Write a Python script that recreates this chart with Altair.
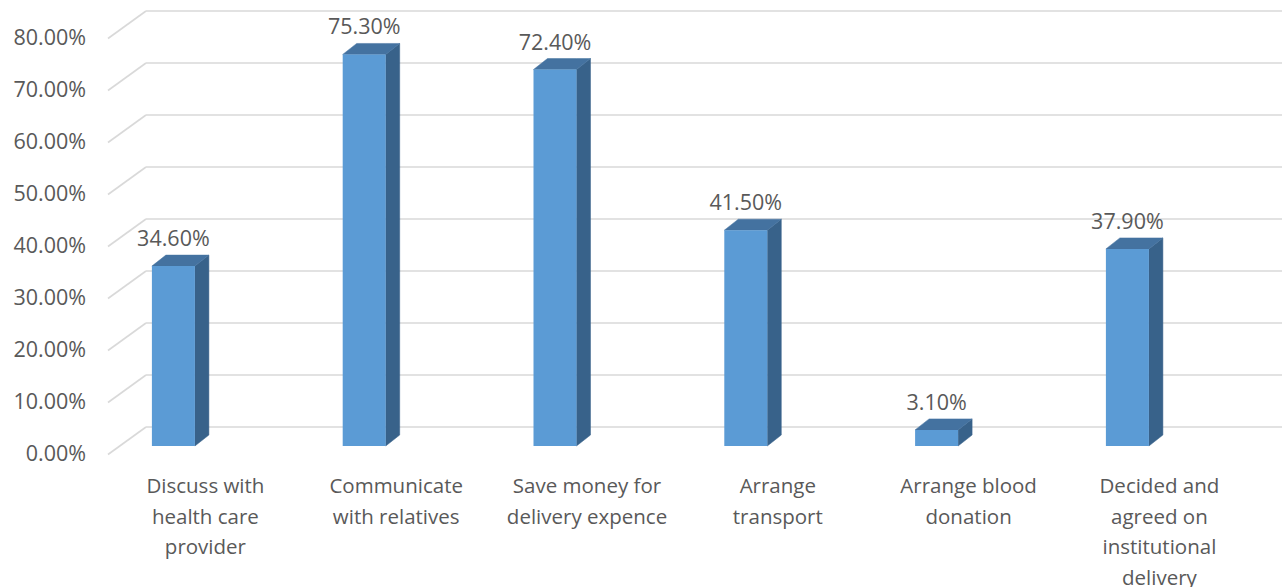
import altair as alt
import pandas as pd

# ---- data ----
categories = [
    "Discuss with\nhealth care\nprovider",
    "Communicate\nwith relatives",
    "Save money for\ndelivery expence",
    "Arrange\ntransport",
    "Arrange blood\ndonation",
    "Decided and\nagreed on\ninstitutional\ndelivery",
]
values = [34.6, 75.3, 72.4, 41.5, 3.1, 37.9]
ticks = [0, 10, 20, 30, 40, 50, 60, 70, 80]
tick_labels = ["0.00%", "10.00%", "20.00%", "30.00%", "40.00%", "50.00%", "60.00%", "70.00%", "80.00%"]
value_labels = ["34.60%", "75.30%", "72.40%", "41.50%", "3.10%", "37.90%"]

# ---- geometry / style ----
W, H = 1172, 446
UNIT = 190.8          # px per category
PX_PER_PCT = 5.2
xdom = [-0.5, -0.5 + W / UNIT]
ydom = [0, H / PX_PER_PCT]
face_l = -53.5 / UNIT
face_r = -10.5 / UNIT
dxu = 14 / UNIT
dyu = 11 / PX_PER_PCT

FRONT = "#5B9BD5"
TOP = "#4472A0"
SIDE = "#38628A"
GRID = "#D9D9D9"
TXT = "#595959"
FONT = "Open Sans"

xs = alt.Scale(domain=xdom, nice=False, zero=False)
ys = alt.Scale(domain=ydom, nice=False, zero=False)

bars = pd.DataFrame({
    "idx": list(range(len(values))),
    "cat": categories,
    "v": values,
    "lab": value_labels,
})
bars["xl"] = bars["idx"] + face_l
bars["xr"] = bars["idx"] + face_r
bars["xc"] = bars["idx"] + (face_l + face_r) / 2

side_rows, top_rows = [], []
for i, v in enumerate(values):
    side_rows.append({"idx": i, "x": i + face_r, "t": v, "b": 0})
    side_rows.append({"idx": i, "x": i + face_r + dxu, "t": v + dyu, "b": dyu})
    top_rows.append({"idx": i, "x": i + face_l, "t": v, "b": v})
    top_rows.append({"idx": i, "x": i + face_l + dxu, "t": v + dyu, "b": v})
    top_rows.append({"idx": i, "x": i + face_r, "t": v + dyu, "b": v})
    top_rows.append({"idx": i, "x": i + face_r + dxu, "t": v + dyu, "b": v + dyu})
side = pd.DataFrame(side_rows)
top = pd.DataFrame(top_rows)

grid = pd.DataFrame({"t": ticks, "lab": tick_labels})

stubs = alt.Chart(grid).mark_rule(color=GRID, strokeWidth=1.6, yOffset=8.5, y2Offset=-19).encode(
    x=alt.value(-2), x2=alt.value(36),
    y=alt.Y("t:Q", scale=ys, axis=None), y2="t:Q",
)
back = alt.Chart(grid).mark_rule(color=GRID, strokeWidth=1.6, yOffset=-19).encode(
    x=alt.value(36), x2=alt.value(W),
    y=alt.Y("t:Q", scale=ys, axis=None),
)
ylabels = alt.Chart(grid).mark_text(
    align="right", baseline="middle", font=FONT, fontSize=21.5, color=TXT, yOffset=8.5
).encode(
    x=alt.value(-24),
    y=alt.Y("t:Q", scale=ys, axis=None),
    text="lab:N",
)

side_l = alt.Chart(side).mark_area(color=SIDE, opacity=1, stroke=SIDE, strokeWidth=0.5).encode(
    x=alt.X("x:Q", scale=xs, axis=None),
    y=alt.Y("t:Q", scale=ys, axis=None, stack=None),
    y2="b:Q",
    detail="idx:N",
)
top_l = alt.Chart(top).mark_area(color=TOP, opacity=1, stroke=TOP, strokeWidth=0.5).encode(
    x=alt.X("x:Q", scale=xs, axis=None),
    y=alt.Y("t:Q", scale=ys, axis=None, stack=None),
    y2="b:Q",
    detail="idx:N",
)
front = alt.Chart(bars).mark_bar(color=FRONT, opacity=1).encode(
    x=alt.X("xl:Q", scale=xs, axis=None),
    x2="xr:Q",
    y=alt.Y("v:Q", scale=ys, axis=None, stack=None),
    y2=alt.Y2(datum=0),
)
vlabels = alt.Chart(bars).mark_text(
    baseline="middle", font=FONT, fontSize=21.5, color=TXT, yOffset=-26
).encode(
    x=alt.X("xc:Q", scale=xs, axis=None),
    y=alt.Y("v:Q", scale=ys, axis=None),
    text="lab:N",
)
clabels = alt.Chart(bars).mark_text(
    baseline="alphabetic", align="center", font=FONT, fontSize=20.5, color=TXT,
    lineBreak="\n", lineHeight=30.5,
).encode(
    x=alt.X("idx:Q", scale=xs, axis=None),
    y=alt.value(493),
    text="cat:N",
)

chart = alt.layer(stubs, back, ylabels, side_l, top_l, front, vlabels, clabels).properties(
    width=W, height=H,
    autosize=alt.AutoSizeParams(type="none"),
    padding={"left": 110, "top": 0, "right": 0, "bottom": 141},
    background="white",
).configure_view(stroke=None)

chart.save("out.html", embed_options={"renderer": "svg", "actions": False})
